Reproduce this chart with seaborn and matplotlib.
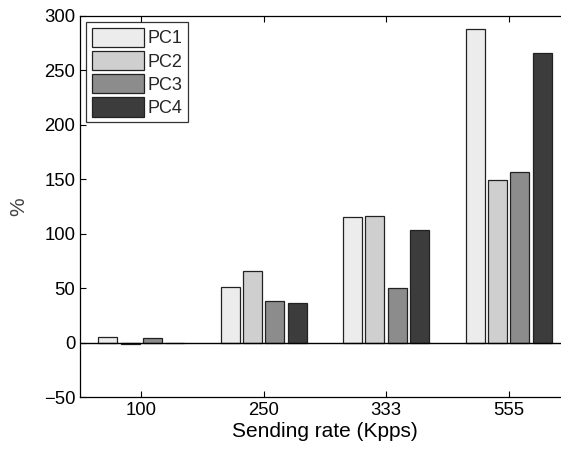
import matplotlib
matplotlib.use("Agg")
import matplotlib.pyplot as plt
import seaborn as sns
import pandas as pd

# values
rates = ["100", "250", "333", "555"]
pc1 = [5.5, 51, 115, 288]
pc2 = [-1, 66, 116, 149]
pc3 = [4.5, 38, 50, 157]
pc4 = [0, 36, 103, 266]
series_names = ["PC1", "PC2", "PC3", "PC4"]
colors = ["#ececec", "#cfcfcf", "#8c8c8c", "#3c3c3c"]

rows = []
for name, vals in zip(series_names, [pc1, pc2, pc3, pc4]):
    for r, v in zip(rates, vals):
        rows.append({"rate": r, "pc": name, "value": v})
df = pd.DataFrame(rows)

sns.set_style("white")
plt.rcParams['font.family'] = ['Liberation Sans', 'DejaVu Sans']

fig = plt.figure(figsize=(5.61, 4.49), dpi=100)
ax = fig.add_axes([0.1426, 0.1158, 0.873, 0.8486])

sns.barplot(data=df, x="rate", y="value", hue="pc", order=rates,
            hue_order=series_names, palette=colors, width=0.73, gap=0.15,
            edgecolor="#222222", linewidth=0.9, saturation=1, ax=ax)

ax.axhline(0, color="black", linewidth=1.0, zorder=5)

ax.set_xlim(-0.5, 3.5)
ax.set_ylim(-50, 300)
ax.set_yticks(range(-50, 301, 50))
ax.set_xlabel("Sending rate (Kpps)", fontsize=15, labelpad=2, color="black")
ax.set_ylabel("%", fontsize=15, labelpad=11, color="#444444")
ax.tick_params(axis="both", direction="in", length=4, labelsize=13.3,
               color="black", labelcolor="black",
               top=True, right=False, bottom=True, left=True)
for s in ax.spines.values():
    s.set_color("black")
    s.set_linewidth(0.9)
ax.spines["right"].set_visible(False)

leg = ax.legend(loc="upper left", fontsize=13, frameon=True, fancybox=False,
                edgecolor="black", handlelength=2.9, handleheight=1.25,
                handletextpad=0.2, borderpad=0.3, labelspacing=0.2,
                borderaxespad=0.35)
leg.get_frame().set_linewidth(0.9)

fig.savefig("out.png", dpi=100)
